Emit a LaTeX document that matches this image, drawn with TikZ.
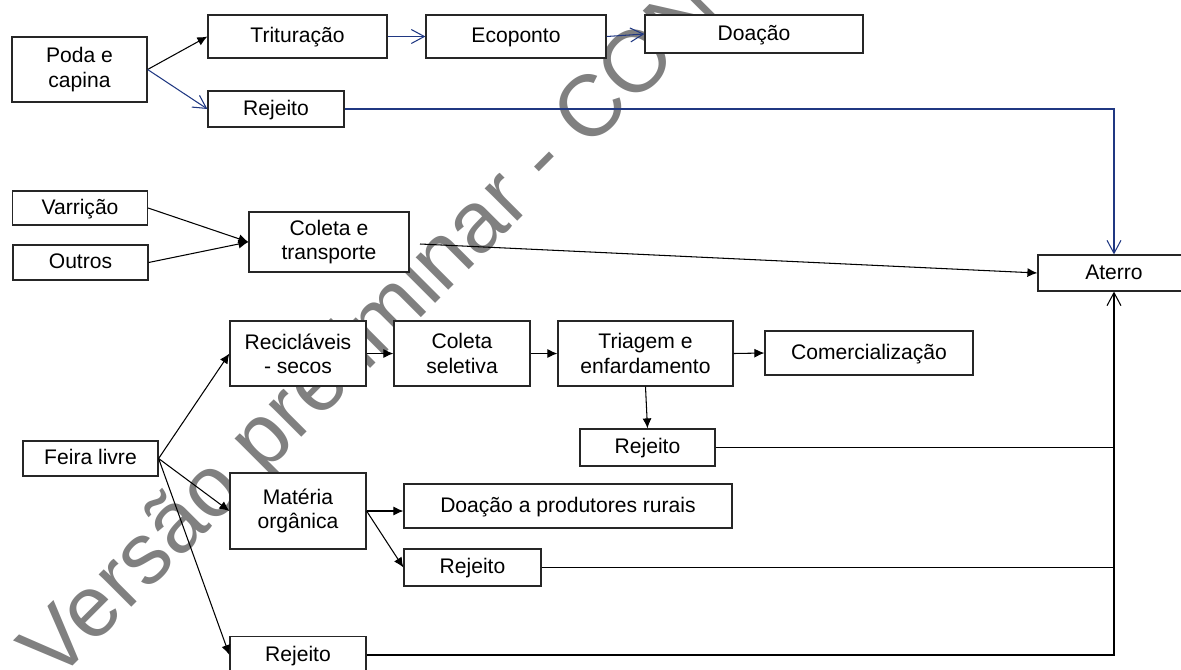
\documentclass[tikz,border=0pt]{standalone}
\usepackage{fontspec}
\setmainfont{Liberation Sans}
\usetikzlibrary{arrows.meta,calc}
\definecolor{navy}{RGB}{32,56,130}
\definecolor{wmgray}{RGB}{128,128,128}
\begin{document}
\begin{tikzpicture}[x=0.02cm,y=-0.02cm,
  box/.style={draw=black!85, line width=0.7pt, fill=white, inner sep=0pt, align=center,
    font=\fontsize{12}{13.8}\selectfont},
  one/.style={text height=0.78em, text depth=0.06em},
  wmtext/.style={text=wmgray, inner sep=0pt, font=\fontsize{49.5}{58}\selectfont},
  blk/.style={line width=0.6pt, -{Latex[length=2mm,width=1.8mm]}},
  blu/.style={navy, line width=0.6pt, -{Straight Barb[length=2.6mm,width=2.8mm]}},
  opn/.style={line width=0.6pt, -{Straight Barb[length=2.6mm,width=2.8mm]}},
  ln/.style={line width=0.6pt}]
\useasboundingbox (0,0) rectangle (1181,670);
\clip (0,0) rectangle (1181,670);

% watermark
\node[wmtext, rotate=45, anchor=base west] (wm) at (55,684) {Versão preliminar - CON};

% boxes
\node[box, minimum width=2.70cm, minimum height=1.30cm] (poda) at (79.5,69.5) {Poda e\\capina};
\node[box, one, minimum width=3.58cm, minimum height=0.86cm] (trit) at (297.5,36.5) {Trituração};
\node[box, one, minimum width=3.60cm, minimum height=0.86cm] (eco) at (516,36.5) {Ecoponto};
\node[box, one, minimum width=4.36cm, minimum height=0.76cm] (doa) at (754,34) {Doação};
\node[box, one, minimum width=2.72cm, minimum height=0.72cm] (rej1) at (276,109) {Rejeito};

\node[box, one, minimum width=2.70cm, minimum height=0.68cm] (varr) at (80,208) {Varrição};
\node[box, one, minimum width=2.70cm, minimum height=0.70cm] (outr) at (80.5,262.5) {Outros};
\node[box, minimum width=3.20cm, minimum height=1.20cm] (colt) at (329,242) {Coleta e\\transporte};
\node[box, one, minimum width=3.04cm, minimum height=0.72cm] (ater) at (1114,273) {Aterro};

\node[box, minimum width=2.72cm, minimum height=1.30cm] (rec) at (298,353.5) {Recicláveis\\- secos};
\node[box, minimum width=2.72cm, minimum height=1.30cm] (cols) at (462,353.5) {Coleta\\seletiva};
\node[box, minimum width=3.50cm, minimum height=1.30cm] (triag) at (645.5,353.5) {Triagem e\\enfardamento};
\node[box, one, minimum width=4.16cm, minimum height=0.88cm] (comer) at (869,353) {Comercialização};
\node[box, one, minimum width=2.70cm, minimum height=0.74cm] (rej2) at (647.5,447.5) {Rejeito};

\node[box, one, minimum width=2.70cm, minimum height=0.70cm] (feira) at (90.5,458.5) {Feira livre};
\node[box, minimum width=2.72cm, minimum height=1.52cm] (mat) at (298,511) {Matéria\\orgânica};
\node[box, one, minimum width=6.56cm, minimum height=0.88cm] (doapr) at (568,506) {Doação a produtores rurais};
\node[box, one, minimum width=2.74cm, minimum height=0.74cm] (rej3) at (472.5,567.5) {Rejeito};
\node[box, one, minimum width=2.72cm, minimum height=0.74cm] (rej4) at (298,655) {Rejeito};

\coordinate (cstart) at (420,244);

% connectors, top group
\draw[blk] (poda.east) -- (trit.west);
\draw[blu] (poda.east) -- (rej1.west);
\draw[blu] (trit.east) -- (eco.west);
\draw[blu] (eco.east) -- (doa.west);
\draw[blu] (rej1.east) -| (ater.north);

% middle group
\draw[blk] (varr.east) -- (colt.west);
\draw[blk] (outr.east) -- (colt.west);
\draw[blk] (cstart) -- (ater.west);

% feira group
\draw[blk] (feira.east) -- (rec.west);
\draw[blk] (feira.east) -- (mat.west);
\draw[blk] (feira.east) -- (rej4.west);
\draw[blk] (rec.east) -- (cols.west);
\draw[blk] (cols.east) -- (triag.west);
\draw[blk] (triag.east) -- (comer.west);
\draw[blk] (triag.south) -- (rej2.north);
\draw[blk] (mat.east) -- (mat.east -| doapr.west);
\draw[blk] (mat.east) -- (rej3.west);
\draw[ln] (rej2.east) -- (rej2.east -| ater.south);
\draw[ln] (rej3.east) -- (rej3.east -| ater.south);
\draw[opn] (rej4.east) -| (ater.south);
\end{tikzpicture}
\end{document}
